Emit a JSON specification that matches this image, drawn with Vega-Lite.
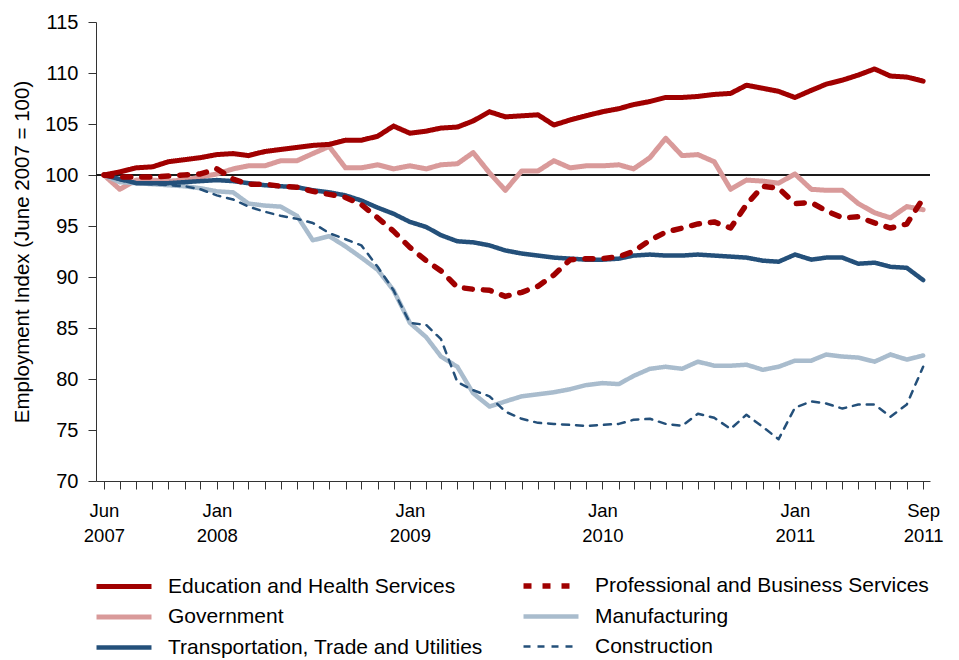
{
  "$schema": "https://vega.github.io/schema/vega-lite/v6.json",
  "width": 834,
  "height": 459,
  "autosize": {"type": "none"},
  "padding": {"left": 96, "top": 22, "right": 29, "bottom": 179},
  "background": "white",
  "config": {"view": {"stroke": null}, "font": "Liberation Sans"},
  "data": {"values": [
{"month":"2007-06-01","sector":"Government","value":100.0},
{"month":"2007-07-01","sector":"Government","value":98.6},
{"month":"2007-08-01","sector":"Government","value":99.5},
{"month":"2007-09-01","sector":"Government","value":99.5},
{"month":"2007-10-01","sector":"Government","value":99.4},
{"month":"2007-11-01","sector":"Government","value":99.5},
{"month":"2007-12-01","sector":"Government","value":99.8},
{"month":"2008-01-01","sector":"Government","value":100.1},
{"month":"2008-02-01","sector":"Government","value":100.6},
{"month":"2008-03-01","sector":"Government","value":100.9},
{"month":"2008-04-01","sector":"Government","value":100.9},
{"month":"2008-05-01","sector":"Government","value":101.4},
{"month":"2008-06-01","sector":"Government","value":101.4},
{"month":"2008-07-01","sector":"Government","value":102.1},
{"month":"2008-08-01","sector":"Government","value":102.8},
{"month":"2008-09-01","sector":"Government","value":100.7},
{"month":"2008-10-01","sector":"Government","value":100.7},
{"month":"2008-11-01","sector":"Government","value":101.0},
{"month":"2008-12-01","sector":"Government","value":100.6},
{"month":"2009-01-01","sector":"Government","value":100.9},
{"month":"2009-02-01","sector":"Government","value":100.6},
{"month":"2009-03-01","sector":"Government","value":101.0},
{"month":"2009-04-01","sector":"Government","value":101.1},
{"month":"2009-05-01","sector":"Government","value":102.2},
{"month":"2009-06-01","sector":"Government","value":100.2},
{"month":"2009-07-01","sector":"Government","value":98.5},
{"month":"2009-08-01","sector":"Government","value":100.4},
{"month":"2009-09-01","sector":"Government","value":100.4},
{"month":"2009-10-01","sector":"Government","value":101.4},
{"month":"2009-11-01","sector":"Government","value":100.7},
{"month":"2009-12-01","sector":"Government","value":100.9},
{"month":"2010-01-01","sector":"Government","value":100.9},
{"month":"2010-02-01","sector":"Government","value":101.0},
{"month":"2010-03-01","sector":"Government","value":100.6},
{"month":"2010-04-01","sector":"Government","value":101.7},
{"month":"2010-05-01","sector":"Government","value":103.6},
{"month":"2010-06-01","sector":"Government","value":101.9},
{"month":"2010-07-01","sector":"Government","value":102.0},
{"month":"2010-08-01","sector":"Government","value":101.3},
{"month":"2010-09-01","sector":"Government","value":98.6},
{"month":"2010-10-01","sector":"Government","value":99.5},
{"month":"2010-11-01","sector":"Government","value":99.4},
{"month":"2010-12-01","sector":"Government","value":99.2},
{"month":"2011-01-01","sector":"Government","value":100.1},
{"month":"2011-02-01","sector":"Government","value":98.6},
{"month":"2011-03-01","sector":"Government","value":98.5},
{"month":"2011-04-01","sector":"Government","value":98.5},
{"month":"2011-05-01","sector":"Government","value":97.2},
{"month":"2011-06-01","sector":"Government","value":96.3},
{"month":"2011-07-01","sector":"Government","value":95.8},
{"month":"2011-08-01","sector":"Government","value":96.9},
{"month":"2011-09-01","sector":"Government","value":96.6},
{"month":"2007-06-01","sector":"Manufacturing","value":100.0},
{"month":"2007-07-01","sector":"Manufacturing","value":99.3},
{"month":"2007-08-01","sector":"Manufacturing","value":99.2},
{"month":"2007-09-01","sector":"Manufacturing","value":99.1},
{"month":"2007-10-01","sector":"Manufacturing","value":99.0},
{"month":"2007-11-01","sector":"Manufacturing","value":98.9},
{"month":"2007-12-01","sector":"Manufacturing","value":98.7},
{"month":"2008-01-01","sector":"Manufacturing","value":98.4},
{"month":"2008-02-01","sector":"Manufacturing","value":98.3},
{"month":"2008-03-01","sector":"Manufacturing","value":97.2},
{"month":"2008-04-01","sector":"Manufacturing","value":97.0},
{"month":"2008-05-01","sector":"Manufacturing","value":96.9},
{"month":"2008-06-01","sector":"Manufacturing","value":96.0},
{"month":"2008-07-01","sector":"Manufacturing","value":93.6},
{"month":"2008-08-01","sector":"Manufacturing","value":94.0},
{"month":"2008-09-01","sector":"Manufacturing","value":93.0},
{"month":"2008-10-01","sector":"Manufacturing","value":91.9},
{"month":"2008-11-01","sector":"Manufacturing","value":90.7},
{"month":"2008-12-01","sector":"Manufacturing","value":88.7},
{"month":"2009-01-01","sector":"Manufacturing","value":85.5},
{"month":"2009-02-01","sector":"Manufacturing","value":84.1},
{"month":"2009-03-01","sector":"Manufacturing","value":82.2},
{"month":"2009-04-01","sector":"Manufacturing","value":81.2},
{"month":"2009-05-01","sector":"Manufacturing","value":78.6},
{"month":"2009-06-01","sector":"Manufacturing","value":77.3},
{"month":"2009-07-01","sector":"Manufacturing","value":77.8},
{"month":"2009-08-01","sector":"Manufacturing","value":78.3},
{"month":"2009-09-01","sector":"Manufacturing","value":78.5},
{"month":"2009-10-01","sector":"Manufacturing","value":78.7},
{"month":"2009-11-01","sector":"Manufacturing","value":79.0},
{"month":"2009-12-01","sector":"Manufacturing","value":79.4},
{"month":"2010-01-01","sector":"Manufacturing","value":79.6},
{"month":"2010-02-01","sector":"Manufacturing","value":79.5},
{"month":"2010-03-01","sector":"Manufacturing","value":80.3},
{"month":"2010-04-01","sector":"Manufacturing","value":81.0},
{"month":"2010-05-01","sector":"Manufacturing","value":81.2},
{"month":"2010-06-01","sector":"Manufacturing","value":81.0},
{"month":"2010-07-01","sector":"Manufacturing","value":81.7},
{"month":"2010-08-01","sector":"Manufacturing","value":81.3},
{"month":"2010-09-01","sector":"Manufacturing","value":81.3},
{"month":"2010-10-01","sector":"Manufacturing","value":81.4},
{"month":"2010-11-01","sector":"Manufacturing","value":80.9},
{"month":"2010-12-01","sector":"Manufacturing","value":81.2},
{"month":"2011-01-01","sector":"Manufacturing","value":81.8},
{"month":"2011-02-01","sector":"Manufacturing","value":81.8},
{"month":"2011-03-01","sector":"Manufacturing","value":82.4},
{"month":"2011-04-01","sector":"Manufacturing","value":82.2},
{"month":"2011-05-01","sector":"Manufacturing","value":82.1},
{"month":"2011-06-01","sector":"Manufacturing","value":81.7},
{"month":"2011-07-01","sector":"Manufacturing","value":82.4},
{"month":"2011-08-01","sector":"Manufacturing","value":81.9},
{"month":"2011-09-01","sector":"Manufacturing","value":82.3},
{"month":"2007-06-01","sector":"Transportation, Trade and Utilities","value":100.0},
{"month":"2007-07-01","sector":"Transportation, Trade and Utilities","value":99.6},
{"month":"2007-08-01","sector":"Transportation, Trade and Utilities","value":99.2},
{"month":"2007-09-01","sector":"Transportation, Trade and Utilities","value":99.2},
{"month":"2007-10-01","sector":"Transportation, Trade and Utilities","value":99.2},
{"month":"2007-11-01","sector":"Transportation, Trade and Utilities","value":99.3},
{"month":"2007-12-01","sector":"Transportation, Trade and Utilities","value":99.4},
{"month":"2008-01-01","sector":"Transportation, Trade and Utilities","value":99.5},
{"month":"2008-02-01","sector":"Transportation, Trade and Utilities","value":99.4},
{"month":"2008-03-01","sector":"Transportation, Trade and Utilities","value":99.2},
{"month":"2008-04-01","sector":"Transportation, Trade and Utilities","value":99.0},
{"month":"2008-05-01","sector":"Transportation, Trade and Utilities","value":98.9},
{"month":"2008-06-01","sector":"Transportation, Trade and Utilities","value":98.8},
{"month":"2008-07-01","sector":"Transportation, Trade and Utilities","value":98.5},
{"month":"2008-08-01","sector":"Transportation, Trade and Utilities","value":98.3},
{"month":"2008-09-01","sector":"Transportation, Trade and Utilities","value":98.0},
{"month":"2008-10-01","sector":"Transportation, Trade and Utilities","value":97.5},
{"month":"2008-11-01","sector":"Transportation, Trade and Utilities","value":96.8},
{"month":"2008-12-01","sector":"Transportation, Trade and Utilities","value":96.2},
{"month":"2009-01-01","sector":"Transportation, Trade and Utilities","value":95.4},
{"month":"2009-02-01","sector":"Transportation, Trade and Utilities","value":94.9},
{"month":"2009-03-01","sector":"Transportation, Trade and Utilities","value":94.1},
{"month":"2009-04-01","sector":"Transportation, Trade and Utilities","value":93.5},
{"month":"2009-05-01","sector":"Transportation, Trade and Utilities","value":93.4},
{"month":"2009-06-01","sector":"Transportation, Trade and Utilities","value":93.1},
{"month":"2009-07-01","sector":"Transportation, Trade and Utilities","value":92.6},
{"month":"2009-08-01","sector":"Transportation, Trade and Utilities","value":92.3},
{"month":"2009-09-01","sector":"Transportation, Trade and Utilities","value":92.1},
{"month":"2009-10-01","sector":"Transportation, Trade and Utilities","value":91.9},
{"month":"2009-11-01","sector":"Transportation, Trade and Utilities","value":91.8},
{"month":"2009-12-01","sector":"Transportation, Trade and Utilities","value":91.7},
{"month":"2010-01-01","sector":"Transportation, Trade and Utilities","value":91.7},
{"month":"2010-02-01","sector":"Transportation, Trade and Utilities","value":91.8},
{"month":"2010-03-01","sector":"Transportation, Trade and Utilities","value":92.1},
{"month":"2010-04-01","sector":"Transportation, Trade and Utilities","value":92.2},
{"month":"2010-05-01","sector":"Transportation, Trade and Utilities","value":92.1},
{"month":"2010-06-01","sector":"Transportation, Trade and Utilities","value":92.1},
{"month":"2010-07-01","sector":"Transportation, Trade and Utilities","value":92.2},
{"month":"2010-08-01","sector":"Transportation, Trade and Utilities","value":92.1},
{"month":"2010-09-01","sector":"Transportation, Trade and Utilities","value":92.0},
{"month":"2010-10-01","sector":"Transportation, Trade and Utilities","value":91.9},
{"month":"2010-11-01","sector":"Transportation, Trade and Utilities","value":91.6},
{"month":"2010-12-01","sector":"Transportation, Trade and Utilities","value":91.5},
{"month":"2011-01-01","sector":"Transportation, Trade and Utilities","value":92.2},
{"month":"2011-02-01","sector":"Transportation, Trade and Utilities","value":91.7},
{"month":"2011-03-01","sector":"Transportation, Trade and Utilities","value":91.9},
{"month":"2011-04-01","sector":"Transportation, Trade and Utilities","value":91.9},
{"month":"2011-05-01","sector":"Transportation, Trade and Utilities","value":91.3},
{"month":"2011-06-01","sector":"Transportation, Trade and Utilities","value":91.4},
{"month":"2011-07-01","sector":"Transportation, Trade and Utilities","value":91.0},
{"month":"2011-08-01","sector":"Transportation, Trade and Utilities","value":90.9},
{"month":"2011-09-01","sector":"Transportation, Trade and Utilities","value":89.7},
{"month":"2007-06-01","sector":"Construction","value":100.0},
{"month":"2007-07-01","sector":"Construction","value":99.5},
{"month":"2007-08-01","sector":"Construction","value":99.2},
{"month":"2007-09-01","sector":"Construction","value":99.1},
{"month":"2007-10-01","sector":"Construction","value":99.0},
{"month":"2007-11-01","sector":"Construction","value":98.9},
{"month":"2007-12-01","sector":"Construction","value":98.6},
{"month":"2008-01-01","sector":"Construction","value":98.0},
{"month":"2008-02-01","sector":"Construction","value":97.6},
{"month":"2008-03-01","sector":"Construction","value":96.9},
{"month":"2008-04-01","sector":"Construction","value":96.4},
{"month":"2008-05-01","sector":"Construction","value":96.0},
{"month":"2008-06-01","sector":"Construction","value":95.7},
{"month":"2008-07-01","sector":"Construction","value":95.3},
{"month":"2008-08-01","sector":"Construction","value":94.3},
{"month":"2008-09-01","sector":"Construction","value":93.7},
{"month":"2008-10-01","sector":"Construction","value":93.1},
{"month":"2008-11-01","sector":"Construction","value":91.0},
{"month":"2008-12-01","sector":"Construction","value":88.7},
{"month":"2009-01-01","sector":"Construction","value":85.5},
{"month":"2009-02-01","sector":"Construction","value":85.3},
{"month":"2009-03-01","sector":"Construction","value":83.9},
{"month":"2009-04-01","sector":"Construction","value":79.7},
{"month":"2009-05-01","sector":"Construction","value":78.9},
{"month":"2009-06-01","sector":"Construction","value":78.3},
{"month":"2009-07-01","sector":"Construction","value":76.8},
{"month":"2009-08-01","sector":"Construction","value":76.1},
{"month":"2009-09-01","sector":"Construction","value":75.7},
{"month":"2009-10-01","sector":"Construction","value":75.6},
{"month":"2009-11-01","sector":"Construction","value":75.5},
{"month":"2009-12-01","sector":"Construction","value":75.4},
{"month":"2010-01-01","sector":"Construction","value":75.5},
{"month":"2010-02-01","sector":"Construction","value":75.6},
{"month":"2010-03-01","sector":"Construction","value":76.0},
{"month":"2010-04-01","sector":"Construction","value":76.1},
{"month":"2010-05-01","sector":"Construction","value":75.6},
{"month":"2010-06-01","sector":"Construction","value":75.4},
{"month":"2010-07-01","sector":"Construction","value":76.6},
{"month":"2010-08-01","sector":"Construction","value":76.2},
{"month":"2010-09-01","sector":"Construction","value":75.1},
{"month":"2010-10-01","sector":"Construction","value":76.5},
{"month":"2010-11-01","sector":"Construction","value":75.3},
{"month":"2010-12-01","sector":"Construction","value":74.1},
{"month":"2011-01-01","sector":"Construction","value":77.2},
{"month":"2011-02-01","sector":"Construction","value":77.8},
{"month":"2011-03-01","sector":"Construction","value":77.6},
{"month":"2011-04-01","sector":"Construction","value":77.1},
{"month":"2011-05-01","sector":"Construction","value":77.5},
{"month":"2011-06-01","sector":"Construction","value":77.5},
{"month":"2011-07-01","sector":"Construction","value":76.3},
{"month":"2011-08-01","sector":"Construction","value":77.5},
{"month":"2011-09-01","sector":"Construction","value":81.2},
{"month":"2007-06-01","sector":"Education and Health Services","value":100.0},
{"month":"2007-07-01","sector":"Education and Health Services","value":100.3},
{"month":"2007-08-01","sector":"Education and Health Services","value":100.7},
{"month":"2007-09-01","sector":"Education and Health Services","value":100.8},
{"month":"2007-10-01","sector":"Education and Health Services","value":101.3},
{"month":"2007-11-01","sector":"Education and Health Services","value":101.5},
{"month":"2007-12-01","sector":"Education and Health Services","value":101.7},
{"month":"2008-01-01","sector":"Education and Health Services","value":102.0},
{"month":"2008-02-01","sector":"Education and Health Services","value":102.1},
{"month":"2008-03-01","sector":"Education and Health Services","value":101.9},
{"month":"2008-04-01","sector":"Education and Health Services","value":102.3},
{"month":"2008-05-01","sector":"Education and Health Services","value":102.5},
{"month":"2008-06-01","sector":"Education and Health Services","value":102.7},
{"month":"2008-07-01","sector":"Education and Health Services","value":102.9},
{"month":"2008-08-01","sector":"Education and Health Services","value":103.0},
{"month":"2008-09-01","sector":"Education and Health Services","value":103.4},
{"month":"2008-10-01","sector":"Education and Health Services","value":103.4},
{"month":"2008-11-01","sector":"Education and Health Services","value":103.8},
{"month":"2008-12-01","sector":"Education and Health Services","value":104.8},
{"month":"2009-01-01","sector":"Education and Health Services","value":104.1},
{"month":"2009-02-01","sector":"Education and Health Services","value":104.3},
{"month":"2009-03-01","sector":"Education and Health Services","value":104.6},
{"month":"2009-04-01","sector":"Education and Health Services","value":104.7},
{"month":"2009-05-01","sector":"Education and Health Services","value":105.3},
{"month":"2009-06-01","sector":"Education and Health Services","value":106.2},
{"month":"2009-07-01","sector":"Education and Health Services","value":105.7},
{"month":"2009-08-01","sector":"Education and Health Services","value":105.8},
{"month":"2009-09-01","sector":"Education and Health Services","value":105.9},
{"month":"2009-10-01","sector":"Education and Health Services","value":104.9},
{"month":"2009-11-01","sector":"Education and Health Services","value":105.4},
{"month":"2009-12-01","sector":"Education and Health Services","value":105.8},
{"month":"2010-01-01","sector":"Education and Health Services","value":106.2},
{"month":"2010-02-01","sector":"Education and Health Services","value":106.5},
{"month":"2010-03-01","sector":"Education and Health Services","value":106.9},
{"month":"2010-04-01","sector":"Education and Health Services","value":107.2},
{"month":"2010-05-01","sector":"Education and Health Services","value":107.6},
{"month":"2010-06-01","sector":"Education and Health Services","value":107.6},
{"month":"2010-07-01","sector":"Education and Health Services","value":107.7},
{"month":"2010-08-01","sector":"Education and Health Services","value":107.9},
{"month":"2010-09-01","sector":"Education and Health Services","value":108.0},
{"month":"2010-10-01","sector":"Education and Health Services","value":108.8},
{"month":"2010-11-01","sector":"Education and Health Services","value":108.5},
{"month":"2010-12-01","sector":"Education and Health Services","value":108.2},
{"month":"2011-01-01","sector":"Education and Health Services","value":107.6},
{"month":"2011-02-01","sector":"Education and Health Services","value":108.3},
{"month":"2011-03-01","sector":"Education and Health Services","value":108.9},
{"month":"2011-04-01","sector":"Education and Health Services","value":109.3},
{"month":"2011-05-01","sector":"Education and Health Services","value":109.8},
{"month":"2011-06-01","sector":"Education and Health Services","value":110.4},
{"month":"2011-07-01","sector":"Education and Health Services","value":109.7},
{"month":"2011-08-01","sector":"Education and Health Services","value":109.6},
{"month":"2011-09-01","sector":"Education and Health Services","value":109.2},
{"month":"2007-06-01","sector":"Professional and Business Services","value":100.0},
{"month":"2007-07-01","sector":"Professional and Business Services","value":99.8},
{"month":"2007-08-01","sector":"Professional and Business Services","value":99.8},
{"month":"2007-09-01","sector":"Professional and Business Services","value":99.8},
{"month":"2007-10-01","sector":"Professional and Business Services","value":99.9},
{"month":"2007-11-01","sector":"Professional and Business Services","value":100.0},
{"month":"2007-12-01","sector":"Professional and Business Services","value":100.1},
{"month":"2008-01-01","sector":"Professional and Business Services","value":100.6},
{"month":"2008-02-01","sector":"Professional and Business Services","value":99.6},
{"month":"2008-03-01","sector":"Professional and Business Services","value":99.1},
{"month":"2008-04-01","sector":"Professional and Business Services","value":99.1},
{"month":"2008-05-01","sector":"Professional and Business Services","value":98.9},
{"month":"2008-06-01","sector":"Professional and Business Services","value":98.8},
{"month":"2008-07-01","sector":"Professional and Business Services","value":98.4},
{"month":"2008-08-01","sector":"Professional and Business Services","value":98.1},
{"month":"2008-09-01","sector":"Professional and Business Services","value":97.8},
{"month":"2008-10-01","sector":"Professional and Business Services","value":97.1},
{"month":"2008-11-01","sector":"Professional and Business Services","value":95.8},
{"month":"2008-12-01","sector":"Professional and Business Services","value":94.5},
{"month":"2009-01-01","sector":"Professional and Business Services","value":92.9},
{"month":"2009-02-01","sector":"Professional and Business Services","value":91.6},
{"month":"2009-03-01","sector":"Professional and Business Services","value":90.6},
{"month":"2009-04-01","sector":"Professional and Business Services","value":89.0},
{"month":"2009-05-01","sector":"Professional and Business Services","value":88.8},
{"month":"2009-06-01","sector":"Professional and Business Services","value":88.7},
{"month":"2009-07-01","sector":"Professional and Business Services","value":88.1},
{"month":"2009-08-01","sector":"Professional and Business Services","value":88.5},
{"month":"2009-09-01","sector":"Professional and Business Services","value":89.1},
{"month":"2009-10-01","sector":"Professional and Business Services","value":90.2},
{"month":"2009-11-01","sector":"Professional and Business Services","value":91.7},
{"month":"2009-12-01","sector":"Professional and Business Services","value":91.8},
{"month":"2010-01-01","sector":"Professional and Business Services","value":91.8},
{"month":"2010-02-01","sector":"Professional and Business Services","value":92.0},
{"month":"2010-03-01","sector":"Professional and Business Services","value":92.5},
{"month":"2010-04-01","sector":"Professional and Business Services","value":93.6},
{"month":"2010-05-01","sector":"Professional and Business Services","value":94.4},
{"month":"2010-06-01","sector":"Professional and Business Services","value":94.8},
{"month":"2010-07-01","sector":"Professional and Business Services","value":95.2},
{"month":"2010-08-01","sector":"Professional and Business Services","value":95.4},
{"month":"2010-09-01","sector":"Professional and Business Services","value":94.8},
{"month":"2010-10-01","sector":"Professional and Business Services","value":97.1},
{"month":"2010-11-01","sector":"Professional and Business Services","value":98.9},
{"month":"2010-12-01","sector":"Professional and Business Services","value":98.7},
{"month":"2011-01-01","sector":"Professional and Business Services","value":97.2},
{"month":"2011-02-01","sector":"Professional and Business Services","value":97.3},
{"month":"2011-03-01","sector":"Professional and Business Services","value":96.5},
{"month":"2011-04-01","sector":"Professional and Business Services","value":95.8},
{"month":"2011-05-01","sector":"Professional and Business Services","value":95.9},
{"month":"2011-06-01","sector":"Professional and Business Services","value":95.3},
{"month":"2011-07-01","sector":"Professional and Business Services","value":94.8},
{"month":"2011-08-01","sector":"Professional and Business Services","value":95.2},
{"month":"2011-09-01","sector":"Professional and Business Services","value":97.7}
  ]},
  "layer": [
    {
      "mark": {"type": "rule", "color": "#1a1a1a", "strokeWidth": 1.2},
      "encoding": {"y": {"datum": 100}}
    },
    {
      "mark": {"type": "line", "strokeCap": "round", "strokeJoin": "round"},
      "encoding": {
        "x": {
          "field": "month", "type": "temporal",
          "scale": {"type": "utc", "domain": [{"year": 2007, "month": 5, "date": 17, "utc": true}, {"year": 2011, "month": 9, "date": 14, "utc": true}]},
          "axis": {
            "title": null,
            "grid": false,
            "tickCount": {"interval": "month", "step": 1},
            "labelExpr": "(utcmonth(datum.value) == 0 || (utcyear(datum.value) == 2007 && utcmonth(datum.value) == 5) || (utcyear(datum.value) == 2011 && utcmonth(datum.value) == 8)) ? [utcFormat(datum.value, '%b'), utcFormat(datum.value, '%Y')] : ''",
            "labelOverlap": false,
            "labelBound": false,
            "labelFlush": false,
            "labelFontSize": 18.5,
            "labelColor": "#000000",
            "labelLineHeight": 25,
            "labelPadding": 12,
            "tickSize": 8,
            "tickColor": "#333333",
            "domainColor": "#333333",
            "tickWidth": 1,
            "domainWidth": 1
          }
        },
        "y": {
          "field": "value", "type": "quantitative",
          "scale": {"domain": [70, 115], "nice": false, "zero": false},
          "axis": {
            "title": "Employment Index (June 2007 = 100)",
            "titleFontSize": 20.5,
            "titleFontWeight": "normal",
            "titleColor": "#000000",
            "titlePadding": 12,
            "values": [70, 75, 80, 85, 90, 95, 100, 105, 110, 115],
            "grid": false,
            "labelFontSize": 20,
            "labelColor": "#000000",
            "labelPadding": 10,
            "tickSize": 8,
            "tickColor": "#333333",
            "domainColor": "#333333"
          }
        },
        "color": {
          "field": "sector", "type": "nominal",
          "scale": {
            "domain": ["Education and Health Services", "Government", "Transportation, Trade and Utilities", "Professional and Business Services", "Manufacturing", "Construction"],
            "range": ["#a00000", "#d99a9a", "#24507a", "#a00000", "#a9bccd", "#24507a"]
          },
          "legend": {
            "title": null,
            "orient": "none",
            "legendX": 16,
            "legendY": 552,
            "columns": 2,
            "padding": 0,
            "symbolType": "M-3,0H3",
            "symbolSize": 336,
            "labelFontSize": 21,
            "labelLimit": 0,
            "labelColor": "#000000",
            "labelOffset": 32,
            "columnPadding": 29,
            "rowPadding": 8
          }
        },
        "strokeDash": {
          "field": "sector", "type": "nominal",
          "scale": {
            "type": "ordinal",
            "domain": ["Education and Health Services", "Government", "Transportation, Trade and Utilities", "Professional and Business Services", "Manufacturing", "Construction"],
            "range": [[1, 0], [1, 0], [1, 0], [8, 11], [1, 0], [7, 7]]
          }
        },
        "strokeWidth": {
          "field": "sector", "type": "nominal",
          "scale": {
            "type": "ordinal",
            "domain": ["Education and Health Services", "Government", "Transportation, Trade and Utilities", "Professional and Business Services", "Manufacturing", "Construction"],
            "range": [5, 5, 4.5, 5.5, 4.5, 2.5]
          }
        }
      }
    }
  ]
}
